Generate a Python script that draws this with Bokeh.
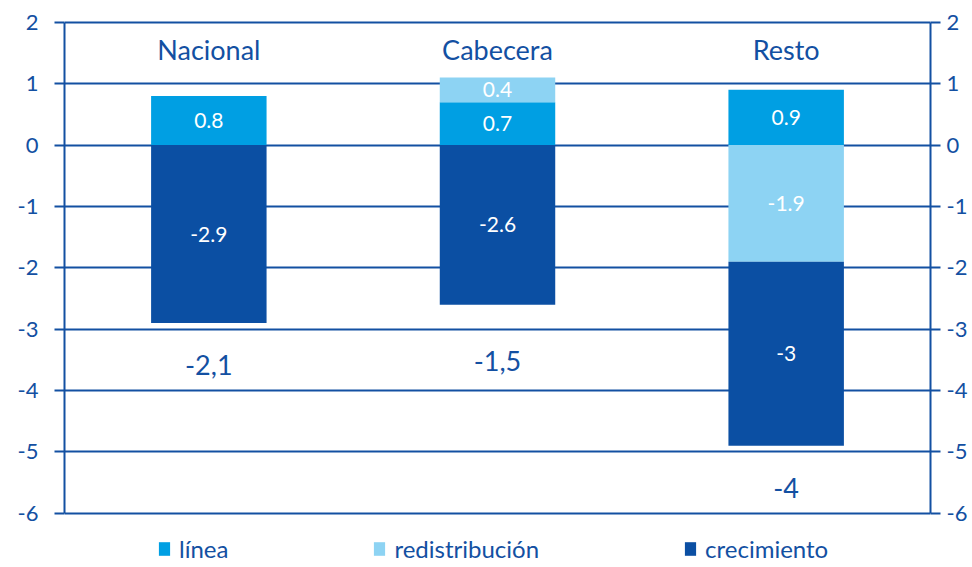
from bokeh.plotting import figure
from bokeh.models import FactorRange, Range1d, LinearAxis, FixedTicker, Legend, LegendItem, ColumnDataSource
from bokeh.core.properties import value
from bokeh.embed import file_html
from bokeh.resources import INLINE

categories = ["Nacional", "Cabecera", "Resto"]
series_names = ["línea", "redistribución", "crecimiento"]
linea = [0.8, 0.7, 0.9]
redistribucion = [0.0, 0.4, -1.9]
crecimiento = [-2.9, -2.6, -3.0]
totals = ["-2,1", "-1,5", "-4"]
y_ticks = [-6, -5, -4, -3, -2, -1, 0, 1, 2]

colors = ["#009FE3", "#8DD3F3", "#0B4FA3"]
text_color = "#1350A2"
FONT = "Lato"

PX_PER_UNIT = 61.375
FRAME_H = 547
y_top = 2.03
y_bottom = y_top - FRAME_H / PX_PER_UNIT

p = figure(frame_width=866, frame_height=FRAME_H, x_range=FactorRange(*categories, range_padding=0),
           y_range=Range1d(y_bottom, y_top), output_backend="svg", toolbar_location=None,
           min_border_left=64, min_border_right=36, min_border_top=20, min_border_bottom=0)
p.outline_line_color = None
p.xaxis.visible = False
p.xgrid.visible = False
p.ygrid.ticker = FixedTicker(ticks=y_ticks)
p.ygrid.grid_line_color = text_color
p.ygrid.grid_line_width = 2

p.yaxis.ticker = FixedTicker(ticks=y_ticks)
right = LinearAxis(ticker=FixedTicker(ticks=y_ticks))
p.add_layout(right, "right")
for ax in [p.yaxis[0], right]:
    ax.bounds = (min(y_ticks), max(y_ticks))
    ax.axis_line_color = text_color
    ax.axis_line_width = 2
    ax.major_tick_line_color = text_color
    ax.major_tick_line_width = 2
    ax.major_tick_out = 10
    ax.major_tick_in = 0
    ax.minor_tick_line_color = None
    ax.major_label_text_color = text_color
    ax.major_label_text_font = FONT
    ax.major_label_text_font_size = "22px"
    ax.major_label_overrides = {t: str(t) for t in y_ticks}
p.yaxis[0].major_label_standoff = 16
right.major_label_standoff = 6

# stacking: positives and negatives separately
series = [linea, redistribucion, crecimiento]
pos_base = [0.0] * len(categories)
neg_base = [0.0] * len(categories)
renderers = []
label_x, label_y, label_t = [], [], []
for si, vals in enumerate(series):
    bottoms, tops, xs = [], [], []
    for ci, v in enumerate(vals):
        if v == 0:
            continue
        if v > 0:
            b, t = pos_base[ci], pos_base[ci] + v
            pos_base[ci] = t
        else:
            b, t = neg_base[ci] + v, neg_base[ci]
            neg_base[ci] = b
        bottoms.append(b)
        tops.append(t)
        xs.append(categories[ci])
        label_x.append(categories[ci])
        label_y.append((b + t) / 2)
        label_t.append(f"{v:g}")
    src = ColumnDataSource(dict(x=xs, bottom=bottoms, top=tops))
    r = p.vbar(x="x", bottom="bottom", top="top", width=0.4, source=src,
               fill_color=colors[si], line_color=None)
    renderers.append(r)

p.text(x=label_x, y=label_y, text=label_t, text_color="white", text_font=value(FONT),
       text_font_size="21px", text_align="center", text_baseline="middle")

# totals below negative stacks
total_y = [min(nb - 0.68, -3.52) for nb in neg_base]
p.text(x=categories, y=total_y, text=totals, text_color=text_color, text_font=value(FONT),
       text_font_size="27px", text_align="center", text_baseline="middle")

# category titles
p.text(x=categories, y=[1.55] * 3, text=categories, text_color=text_color, text_font=value(FONT),
       text_font_size="27px", text_align="center", text_baseline="middle")

legend = Legend(items=[LegendItem(label=n, renderers=[r]) for n, r in zip(series_names, renderers)],
                orientation="horizontal", location=(93, 4), spacing=144,
                glyph_width=14, glyph_height=17, label_standoff=8,
                label_text_font=FONT, label_text_font_size="24px", label_text_color=text_color,
                border_line_color=None, background_fill_alpha=0, padding=0, margin=0)
legend.label_height = 15
p.add_layout(legend)

open("out.html", "w").write(file_html(p, INLINE))
